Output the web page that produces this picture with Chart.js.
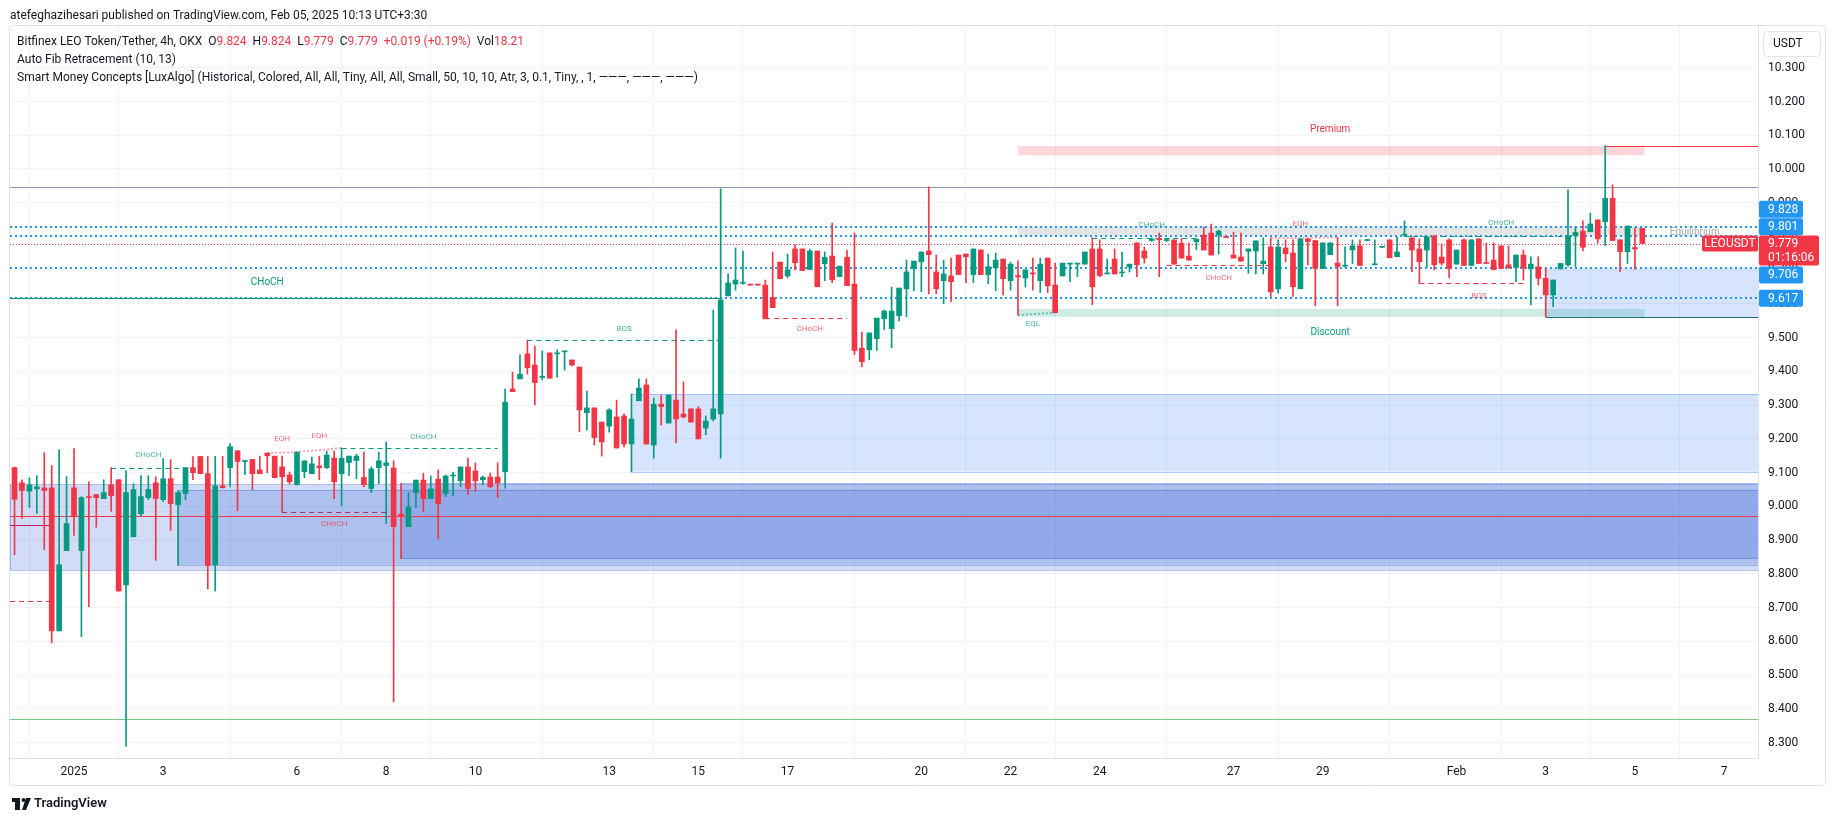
<!DOCTYPE html>
<html>
<head>
<meta charset="utf-8">
<title>LEOUSDT 4h</title>
<script src="https://cdn.jsdelivr.net/npm/chart.js@4.4.1/dist/chart.umd.min.js"></script>
<style>
  html, body { margin: 0; padding: 0; background: #fff; }
  canvas { display: block; }
</style>
</head>
<body>
<canvas id="leoChart" width="1835" height="821"></canvas>
<script>
// 4h candles; index 0 = Jan 1 00:00, six candles per day
const firstIndex = -8;

const opens = [
  9.115, 9.070, 9.045, 9.052, 9.055, 9.055, 8.631, 8.869,
  9.055, 8.869, 9.029, 9.035, 9.023, 9.064, 9.079, 8.767, 8.910, 8.978,
  9.026, 9.070, 9.020, 9.082, 9.005, 9.038, 9.115, 9.148, 9.097, 8.827,
  9.061, 9.115, 9.165, 9.133, 9.139, 9.108, 9.158, 9.149, 9.117, 9.093,
  9.064, 9.103, 9.097, 9.120, 9.115, 9.143, 9.097, 9.130, 9.136, 9.086,
  9.053, 9.115, 9.121, 9.114, 8.977, 8.940, 9.041, 9.078, 9.023, 9.081,
  9.038, 9.090, 9.076, 9.117, 9.105, 9.079, 9.087, 9.087, 9.103, 9.348,
  9.378, 9.452, 9.419, 9.382, 9.455, 9.452, 9.458, 9.434, 9.413, 9.278,
  9.292, 9.250, 9.238, 9.265, 9.268, 9.185, 9.313, 9.360, 9.182, 9.303,
  9.247, 9.315, 9.274, 9.289, 9.289, 9.232, 9.259, 9.274, 9.624, 9.659,
  9.661, 9.657, 9.657, 9.656, 9.619, 9.724, 9.683, 9.763, 9.763, 9.702,
  9.757, 9.719, 9.742, 9.681, 9.738, 9.659, 9.469, 9.464, 9.497, 9.556,
  9.527, 9.565, 9.645, 9.705, 9.725, 9.757, 9.695, 9.669, 9.683, 9.745,
  9.748, 9.687, 9.760, 9.687, 9.707, 9.733, 9.669, 9.684, 9.677, 9.692,
  9.669, 9.736, 9.656, 9.683, 9.718, 9.718, 9.718, 9.763, 9.763, 9.689,
  9.733, 9.692, 9.710, 9.781, 9.757, 9.788, 9.794, 9.788, 9.790, 9.780,
  9.742, 9.784, 9.804, 9.810, 9.804, 9.800, 9.745, 9.739, 9.756, 9.757,
  9.719, 9.769, 9.645, 9.766, 9.751, 9.645, 9.793, 9.788, 9.705, 9.746,
  9.721, 9.712, 9.760, 9.772, 9.788, 9.716, 9.768, 9.790, 9.740, 9.804,
  9.796, 9.763, 9.760, 9.802, 9.739, 9.790, 9.718, 9.790, 9.714, 9.793,
  9.722, 9.730, 9.772, 9.716, 9.708, 9.745, 9.704, 9.710, 9.676, 9.627,
  9.704, 9.716, 9.802, 9.816, 9.814, 9.849, 9.844, 9.913, 9.790, 9.755,
  9.767, 9.824
];
const highs = [
  9.117, 9.079, 9.085, 9.091, 9.159, 9.121, 9.168, 9.088,
  9.171, 9.029, 9.073, 9.035, 9.079, 9.115, 9.079, 9.106, 9.067, 9.091,
  9.091, 9.088, 9.142, 9.139, 9.047, 9.115, 9.148, 9.148, 9.148, 9.148,
  9.148, 9.186, 9.165, 9.136, 9.139, 9.149, 9.158, 9.149, 9.149, 9.102,
  9.161, 9.135, 9.146, 9.149, 9.164, 9.164, 9.173, 9.149, 9.155, 9.161,
  9.117, 9.161, 9.191, 9.135, 9.068, 9.040, 9.078, 9.098, 9.090, 9.108,
  9.093, 9.102, 9.117, 9.143, 9.129, 9.090, 9.099, 9.129, 9.348, 9.398,
  9.449, 9.493, 9.475, 9.461, 9.455, 9.464, 9.461, 9.434, 9.413, 9.342,
  9.292, 9.250, 9.289, 9.315, 9.274, 9.333, 9.378, 9.378, 9.321, 9.330,
  9.330, 9.523, 9.369, 9.289, 9.295, 9.268, 9.582, 9.941, 9.689, 9.766,
  9.757, 9.658, 9.658, 9.671, 9.754, 9.724, 9.748, 9.775, 9.763, 9.763,
  9.757, 9.754, 9.840, 9.712, 9.760, 9.810, 9.517, 9.514, 9.558, 9.582,
  9.650, 9.647, 9.730, 9.727, 9.754, 9.947, 9.745, 9.730, 9.736, 9.745,
  9.748, 9.763, 9.760, 9.748, 9.751, 9.733, 9.724, 9.728, 9.701, 9.736,
  9.736, 9.736, 9.721, 9.721, 9.721, 9.721, 9.754, 9.796, 9.790, 9.733,
  9.763, 9.754, 9.718, 9.781, 9.769, 9.796, 9.810, 9.794, 9.790, 9.794,
  9.781, 9.792, 9.828, 9.837, 9.819, 9.800, 9.813, 9.810, 9.763, 9.787,
  9.796, 9.795, 9.790, 9.790, 9.790, 9.793, 9.793, 9.788, 9.781, 9.781,
  9.797, 9.769, 9.790, 9.790, 9.791, 9.790, 9.771, 9.790, 9.799, 9.846,
  9.796, 9.793, 9.799, 9.802, 9.778, 9.793, 9.760, 9.793, 9.790, 9.793,
  9.781, 9.781, 9.772, 9.772, 9.745, 9.760, 9.740, 9.740, 9.706, 9.671,
  9.720, 9.938, 9.829, 9.846, 9.869, 9.849, 10.069, 9.953, 9.790, 9.831,
  9.824, 9.824
];
const lows = [
  8.857, 8.964, 8.997, 8.979, 8.872, 8.596, 8.631, 8.869,
  8.914, 8.614, 8.703, 8.938, 9.023, 8.985, 8.749, 8.289, 8.910, 8.972,
  9.020, 8.840, 9.014, 8.929, 8.825, 9.020, 9.079, 9.097, 8.755, 8.749,
  9.055, 9.058, 8.987, 9.094, 9.050, 9.097, 9.100, 9.085, 8.982, 9.067,
  9.064, 9.085, 9.097, 9.079, 9.112, 9.023, 9.002, 9.091, 9.082, 9.058,
  9.041, 9.067, 8.949, 8.421, 8.845, 8.940, 8.996, 8.984, 9.023, 8.904,
  9.029, 9.032, 9.058, 9.035, 9.044, 9.064, 9.056, 9.026, 9.054, 9.340,
  9.378, 9.392, 9.301, 9.375, 9.380, 9.383, 9.404, 9.416, 9.221, 9.226,
  9.182, 9.149, 9.220, 9.173, 9.176, 9.103, 9.313, 9.185, 9.143, 9.241,
  9.247, 9.188, 9.262, 9.250, 9.200, 9.212, 9.253, 9.143, 9.624, 9.641,
  9.659, 9.655, 9.655, 9.556, 9.589, 9.675, 9.678, 9.701, 9.699, 9.702,
  9.651, 9.669, 9.663, 9.681, 9.654, 9.450, 9.414, 9.435, 9.462, 9.524,
  9.470, 9.550, 9.562, 9.639, 9.636, 9.630, 9.630, 9.601, 9.607, 9.687,
  9.663, 9.663, 9.687, 9.660, 9.639, 9.627, 9.641, 9.567, 9.650, 9.641,
  9.634, 9.634, 9.574, 9.683, 9.666, 9.681, 9.718, 9.598, 9.681, 9.689,
  9.689, 9.681, 9.695, 9.681, 9.721, 9.786, 9.681, 9.785, 9.718, 9.736,
  9.730, 9.760, 9.760, 9.745, 9.748, 9.797, 9.736, 9.727, 9.691, 9.689,
  9.689, 9.622, 9.632, 9.725, 9.622, 9.645, 9.716, 9.595, 9.705, 9.746,
  9.595, 9.709, 9.720, 9.714, 9.787, 9.716, 9.767, 9.737, 9.740, 9.800,
  9.696, 9.661, 9.709, 9.701, 9.715, 9.678, 9.718, 9.714, 9.714, 9.720,
  9.719, 9.702, 9.705, 9.705, 9.666, 9.671, 9.597, 9.656, 9.562, 9.592,
  9.704, 9.711, 9.711, 9.757, 9.814, 9.780, 9.773, 9.788, 9.696, 9.720,
  9.703, 9.779
];
const closes = [
  9.021, 9.047, 9.064, 9.058, 9.047, 8.631, 8.827, 8.949,
  8.971, 9.026, 9.026, 9.026, 9.041, 9.032, 8.749, 9.041, 9.050, 9.029,
  9.050, 9.023, 9.082, 9.008, 9.041, 9.115, 9.100, 9.097, 8.825, 9.061,
  9.055, 9.177, 9.133, 9.136, 9.097, 9.097, 9.150, 9.085, 9.088, 9.073,
  9.161, 9.135, 9.126, 9.115, 9.152, 9.073, 9.143, 9.149, 9.149, 9.064,
  9.111, 9.135, 9.129, 8.940, 8.970, 8.998, 9.078, 9.023, 9.052, 9.008,
  9.090, 9.093, 9.117, 9.053, 9.076, 9.086, 9.058, 9.070, 9.309, 9.340,
  9.392, 9.411, 9.367, 9.386, 9.380, 9.455, 9.459, 9.419, 9.286, 9.292,
  9.204, 9.191, 9.286, 9.173, 9.185, 9.259, 9.351, 9.185, 9.303, 9.296,
  9.330, 9.259, 9.265, 9.250, 9.200, 9.253, 9.289, 9.612, 9.662, 9.671,
  9.663, 9.656, 9.656, 9.556, 9.589, 9.675, 9.701, 9.722, 9.699, 9.757,
  9.651, 9.738, 9.672, 9.712, 9.654, 9.462, 9.429, 9.514, 9.558, 9.579,
  9.579, 9.647, 9.695, 9.727, 9.754, 9.746, 9.645, 9.689, 9.666, 9.687,
  9.740, 9.763, 9.687, 9.710, 9.730, 9.675, 9.718, 9.680, 9.701, 9.689,
  9.718, 9.654, 9.574, 9.721, 9.721, 9.721, 9.754, 9.651, 9.684, 9.692,
  9.689, 9.695, 9.718, 9.716, 9.736, 9.792, 9.790, 9.791, 9.718, 9.736,
  9.730, 9.792, 9.760, 9.745, 9.816, 9.797, 9.736, 9.727, 9.763, 9.787,
  9.727, 9.636, 9.769, 9.749, 9.651, 9.793, 9.785, 9.705, 9.781, 9.781,
  9.711, 9.715, 9.772, 9.714, 9.790, 9.719, 9.770, 9.737, 9.754, 9.805,
  9.760, 9.725, 9.799, 9.716, 9.721, 9.705, 9.760, 9.714, 9.790, 9.720,
  9.720, 9.702, 9.705, 9.708, 9.745, 9.706, 9.718, 9.676, 9.627, 9.671,
  9.720, 9.802, 9.812, 9.768, 9.837, 9.793, 9.913, 9.788, 9.755, 9.831,
  9.763, 9.779
];

// time axis
const dayTicks = [0, 12, 30, 42, 54, 72, 84, 96, 114, 126, 138, 156, 168, 186, 198, 210, 222];
const dayLabels = ['2025', '3', '6', '8', '10', '13', '15', '17', '20', '22', '24', '27', '29', 'Feb', '3', '5', '7'];
const priceTicks = [8.3, 8.4, 8.5, 8.6, 8.7, 8.8, 8.9, 9.0, 9.1, 9.2, 9.3, 9.4, 9.5, 9.6, 9.7, 9.8, 9.9, 10.0, 10.1, 10.2, 10.3];

// auto fib levels and where their axis tags sit (pushed apart like TV does)
const fibLevels = [9.828, 9.801, 9.706, 9.617];
const fibTagAt = [9.881, 9.829, 9.686, 9.617];
const lastPrice = 9.779;

const UP = '#089981';
const DOWN = '#f23645';
const INK = '#131722';
const FONT = 'Roboto, "Noto Sans", Arial, sans-serif';
const EDGE_L = -8.61;
const EDGE_R = 226.56;

// order blocks and premium / equilibrium / discount zones: [from, to, top, bottom, fill, stroke]
const zoneBoxes = [
  [EDGE_L, EDGE_R, 9.065, 8.811, 'rgba(30,80,210,0.2)', 'rgba(30,80,210,0.3)'],
  [14, EDGE_R, 9.049, 8.827, 'rgba(30,80,210,0.2)', 'rgba(30,80,210,0.3)'],
  [44, EDGE_R, 9.068, 8.845, 'rgba(30,80,210,0.2)', 'rgba(30,80,210,0.3)'],
  [75, EDGE_R, 9.333, 9.103, 'rgba(49,121,245,0.2)', 'rgba(49,121,245,0.35)'],
  [198, EDGE_R, 9.706, 9.560, 'rgba(49,121,245,0.2)', null],
  [127, 211.3, 10.068, 10.041, 'rgba(242,54,69,0.2)', null],
  [127, 211.3, 9.829, 9.802, 'rgba(120,123,134,0.2)', null],
  [127, 211.3, 9.585, 9.562, 'rgba(8,153,129,0.2)', null]
];

// horizontal levels: [from, to, price, colour, width, dash]
const levelLines = [
  [EDGE_L, EDGE_R, 9.946, '#8f97b6', 1, []],
  [EDGE_L, EDGE_R, 8.371, '#81c784', 1, []],
  [EDGE_L, EDGE_R, 8.972, '#f23645', 1, []],
  [EDGE_L, -3.2, 8.945, '#c2185b', 1, []],
  [EDGE_L, -3.2, 8.719, DOWN, 1, [5, 4]],
  [EDGE_L, 87, 9.617, UP, 1, []],
  [206, EDGE_R, 10.068, DOWN, 1, []],
  [198, EDGE_R, 9.560, '#1f6b78', 1, []],
  // structure breaks
  [5, 15, 9.114, UP, 1, [5, 4]],
  [36, 57, 9.172, UP, 1, [5, 4]],
  [28, 42, 8.982, '#b03060', 1, [5, 4]],
  [61, 87, 9.492, UP, 1, [5, 4]],
  [93, 104, 9.557, DOWN, 1, [5, 4]],
  [137, 151, 9.795, UP, 1, [5, 4]],
  [147, 161, 9.714, DOWN, 1, [5, 4]],
  [179, 201, 9.802, UP, 1, [5, 4]],
  [181, 195, 9.661, DOWN, 1, [5, 4]]
];

// equal highs / lows: dotted joins
const equalLines = [
  [[26, 9.158], [30, 9.161], [36, 9.173], 'rgba(242,54,69,0.45)'],
  [[127, 9.567], [132, 9.574], 'rgba(8,153,129,0.5)'],
  [[161, 9.795], [170, 9.797], 'rgba(242,54,69,0.45)']
];

// [index, price, text, colour, size, align]
const structureLabels = [
  [26, 9.665, 'CHoCH', UP, 10, 'center'],
  [10, 9.152, 'CHoCH', 'rgba(8,153,129,0.75)', 8, 'center'],
  [28, 9.199, 'EQH', 'rgba(242,54,69,0.75)', 8, 'center'],
  [33, 9.209, 'EQH', 'rgba(242,54,69,0.75)', 8, 'center'],
  [47, 9.207, 'CHoCH', 'rgba(8,153,129,0.75)', 8, 'center'],
  [35, 8.947, 'CHoCH', 'rgba(242,54,69,0.75)', 8, 'center'],
  [74, 9.527, 'BOS', 'rgba(8,153,129,0.75)', 8, 'center'],
  [99, 9.525, 'CHoCH', 'rgba(242,54,69,0.75)', 8, 'center'],
  [129, 9.540, 'EQL', 'rgba(8,153,129,0.75)', 8, 'center'],
  [145, 9.834, 'CHoCH', 'rgba(8,153,129,0.75)', 8, 'center'],
  [154, 9.678, 'CHoCH', 'rgba(242,54,69,0.75)', 8, 'center'],
  [165, 9.836, 'EQH', 'rgba(242,54,69,0.75)', 8, 'center'],
  [192, 9.839, 'CHoCH', 'rgba(8,153,129,0.75)', 8, 'center'],
  [189, 9.624, 'BOS', 'rgba(242,54,69,0.75)', 8, 'center'],
  [169, 10.116, 'Premium', DOWN, 10, 'center'],
  [169, 9.516, 'Discount', UP, 10, 'center'],
  [214.7, 9.812, 'Equilibrium', '#a3a6af', 10, 'left']
];

const candles = opens.map((o, k) => ({ x: firstIndex + k, o, h: highs[k], l: lows[k], c: closes[k] }));
const candleColors = candles.map(d => (d.c >= d.o ? UP : DOWN));

function rrect(ctx, x, y, w, h, r) {
  ctx.beginPath();
  if (ctx.roundRect) ctx.roundRect(x, y, w, h, r); else ctx.rect(x, y, w, h);
  ctx.fill();
}

function hline(ctx, x0, x1, y, color, width, dash) {
  const yy = width % 2 ? Math.round(y) + 0.5 : Math.round(y);
  ctx.strokeStyle = color;
  ctx.lineWidth = width;
  ctx.setLineDash(dash);
  ctx.beginPath();
  ctx.moveTo(x0, yy);
  ctx.lineTo(x1, yy);
  ctx.stroke();
}

const smcOverlay = {
  id: 'smcOverlay',
  beforeDraw(chart) {
    const ctx = chart.ctx;
    ctx.save();
    ctx.fillStyle = '#fff';
    ctx.fillRect(0, 0, chart.width, chart.height);
    ctx.restore();
  },
  beforeDatasetsDraw(chart) {
    const { ctx, chartArea: a, scales: { x, y } } = chart;
    ctx.save();
    ctx.beginPath();
    ctx.rect(a.left, a.top, a.right - a.left, a.bottom - a.top);
    ctx.clip();

    zoneBoxes.forEach(([x0, x1, top, bot, fill, stroke]) => {
      const L = x.getPixelForValue(x0), R = x.getPixelForValue(x1);
      const T = y.getPixelForValue(top), B = y.getPixelForValue(bot);
      ctx.fillStyle = fill;
      ctx.fillRect(L, T, R - L, B - T);
      if (stroke) {
        ctx.strokeStyle = stroke;
        ctx.lineWidth = 1;
        ctx.setLineDash([]);
        ctx.strokeRect(Math.round(L) + 0.5, Math.round(T) + 0.5, Math.round(R - L), Math.round(B - T));
      }
    });

    fibLevels.forEach(v => hline(ctx, a.left, a.right, y.getPixelForValue(v), '#2196f3', 2, [2, 3]));
    hline(ctx, a.left, a.right, y.getPixelForValue(lastPrice), DOWN, 1, [1, 2]);

    levelLines.forEach(([x0, x1, p, color, w, dash]) =>
      hline(ctx, x.getPixelForValue(x0), x.getPixelForValue(x1), y.getPixelForValue(p), color, w, dash));

    equalLines.forEach(pts => {
      const color = pts[pts.length - 1];
      ctx.strokeStyle = color;
      ctx.lineWidth = 2;
      ctx.setLineDash([2, 2]);
      ctx.beginPath();
      pts.slice(0, -1).forEach(([i, p], k) => {
        const px = x.getPixelForValue(i), py = y.getPixelForValue(p);
        if (k === 0) ctx.moveTo(px, py); else ctx.lineTo(px, py);
      });
      ctx.stroke();
    });
    ctx.restore();
  },
  afterDatasetsDraw(chart) {
    const { ctx, chartArea: a, scales: { x, y } } = chart;
    ctx.save();
    ctx.beginPath();
    ctx.rect(a.left, a.top, a.right - a.left, a.bottom - a.top);
    ctx.clip();
    ctx.textBaseline = 'middle';
    structureLabels.forEach(([i, p, text, color, size, align]) => {
      ctx.font = size + 'px ' + FONT;
      ctx.fillStyle = color;
      ctx.textAlign = align;
      ctx.fillText(text, x.getPixelForValue(i), y.getPixelForValue(p));
    });
    ctx.restore();
  },
  afterDraw(chart) {
    const { ctx, chartArea: a, scales: { y } } = chart;
    ctx.save();
    ctx.textBaseline = 'middle';

    // panel frame
    ctx.strokeStyle = '#e0e3eb';
    ctx.lineWidth = 1;
    ctx.setLineDash([]);
    ctx.beginPath();
    if (ctx.roundRect) ctx.roundRect(9.5, 25.5, 1816, 760, 4); else ctx.rect(9.5, 25.5, 1816, 760);
    ctx.stroke();

    // fib tags on the price axis
    ctx.font = '12px ' + FONT;
    fibLevels.forEach((v, k) => {
      const cy = y.getPixelForValue(fibTagAt[k]);
      ctx.fillStyle = '#2196f3';
      rrect(ctx, a.right + 1, cy - 8.5, 44, 17, 2);
      ctx.fillStyle = '#fff';
      ctx.textAlign = 'left';
      ctx.fillText(v.toFixed(3), a.right + 10, cy + 0.5);
    });

    // last price tag
    const cy = y.getPixelForValue(lastPrice);
    ctx.fillStyle = DOWN;
    rrect(ctx, a.right + 1, cy - 8, 60, 30, 2);
    rrect(ctx, a.right - 56, cy - 8, 56, 16, 2);
    ctx.fillStyle = '#fff';
    ctx.textAlign = 'left';
    ctx.fillText(lastPrice.toFixed(3), a.right + 10, cy + 0.5);
    ctx.fillText('01:16:06', a.right + 10, cy + 14.5);
    ctx.textAlign = 'center';
    ctx.fillText('LEOUSDT', a.right - 28, cy + 0.5);

    // currency button
    ctx.fillStyle = '#fff';
    ctx.strokeStyle = '#e0e3eb';
    ctx.beginPath();
    if (ctx.roundRect) ctx.roundRect(1763.5, 31.5, 57, 25, 4); else ctx.rect(1763.5, 31.5, 57, 25);
    ctx.fill();
    ctx.stroke();
    ctx.fillStyle = INK;
    ctx.textAlign = 'left';
    ctx.fillText('USDT', 1773, 44);

    // header
    ctx.font = '12px ' + FONT;
    ctx.fillStyle = INK;
    ctx.fillText('atefeghazihesari published on TradingView.com, Feb 05, 2025 10:13 UTC+3:30', 10, 16, 420);

    const runs = [
      ['Bitfinex LEO Token/Tether, 4h, OKX  ', INK], ['O', INK], ['9.824', DOWN], ['  H', INK], ['9.824', DOWN],
      ['  L', INK], ['9.779', DOWN], ['  C', INK], ['9.779', DOWN], ['  +0.019 (+0.19%)', DOWN],
      ['  Vol', INK], ['18.21', DOWN]
    ];
    let tx = 17;
    runs.forEach(([t, c]) => {
      ctx.fillStyle = c;
      ctx.fillText(t, tx, 42);
      tx += ctx.measureText(t).width;
    });
    ctx.fillStyle = INK;
    ctx.fillText('Auto Fib Retracement (10, 13)', 17, 60);
    ctx.fillText('Smart Money Concepts [LuxAlgo] (Historical, Colored, All, All, Tiny, All, All, Small, 50, 10, 10, Atr, 3, 0.1, Tiny, , 1, \u2014\u2014\u2014, \u2014\u2014\u2014, \u2014\u2014\u2014)', 17, 78);

    // TradingView mark
    ctx.fillStyle = INK;
    ctx.fillRect(12, 798, 8, 4);
    ctx.fillRect(15, 798, 5, 12);
    ctx.beginPath();
    ctx.arc(23.5, 800, 2, 0, Math.PI * 2);
    ctx.fill();
    ctx.beginPath();
    ctx.moveTo(26, 798);
    ctx.lineTo(31, 798);
    ctx.lineTo(26, 810);
    ctx.lineTo(22, 810);
    ctx.closePath();
    ctx.fill();
    ctx.font = '600 13px ' + FONT;
    ctx.fillText('TradingView', 34, 804);
    ctx.restore();
  }
};

new Chart(document.getElementById('leoChart'), {
  type: 'bar',
  data: {
    datasets: [
      {
        label: 'wicks',
        data: candles.map(d => ({ x: d.x, y: [d.l, d.h] })),
        backgroundColor: candleColors,
        barThickness: 1,
        minBarLength: 1,
        grouped: false,
        borderWidth: 0
      },
      {
        label: 'bodies',
        data: candles.map(d => ({ x: d.x, y: [d.o, d.c] })),
        backgroundColor: candleColors,
        barThickness: 5,
        minBarLength: 1,
        grouped: false,
        borderWidth: 0
      }
    ]
  },
  options: {
    responsive: false,
    animation: false,
    devicePixelRatio: 1,
    events: [],
    layout: { padding: { left: 10, top: 26, right: 9, bottom: 35 } },
    plugins: {
      legend: { display: false },
      tooltip: { enabled: false },
      title: { display: false }
    },
    scales: {
      x: {
        type: 'linear',
        min: EDGE_L,
        max: EDGE_R,
        offset: false,
        afterBuildTicks: s => { s.ticks = dayTicks.map(v => ({ value: v })); },
        afterFit: s => { s.height = 28; },
        ticks: {
          callback: (v, i) => dayLabels[i],
          color: INK,
          font: { size: 12, family: FONT },
          padding: 7,
          maxRotation: 0,
          autoSkip: false
        },
        grid: { color: '#f0f3fa', drawTicks: false },
        border: { color: '#e0e3eb' }
      },
      y: {
        position: 'right',
        min: 8.2543,
        max: 10.4238,
        afterBuildTicks: s => { s.ticks = priceTicks.map(v => ({ value: v })); },
        afterFit: s => { s.width = 68; },
        ticks: {
          callback: v => v.toFixed(3),
          color: INK,
          font: { size: 12, family: FONT },
          padding: 10
        },
        grid: { color: '#f0f3fa', drawTicks: false },
        border: { color: '#e0e3eb' }
      }
    }
  },
  plugins: [smcOverlay]
});
</script>
</body>
</html>
